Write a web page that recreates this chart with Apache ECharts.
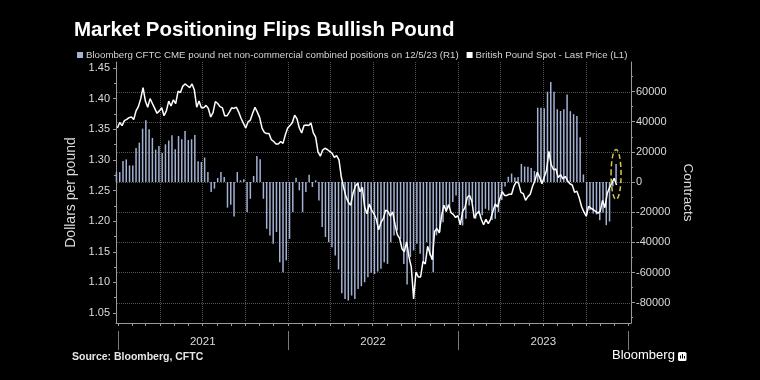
<!DOCTYPE html>
<html>
<head>
<meta charset="utf-8">
<script src="https://cdn.jsdelivr.net/npm/echarts@6/dist/echarts.min.js"></script>
<style>html,body{margin:0;padding:0;background:#000;}#c{width:760px;height:380px;}</style>
</head>
<body>
<div id="c"></div>
<script>
// ---- data ----
const seriesNames = ['Bloomberg CFTC CME pound net non-commercial combined positions on 12/5/23 (R1)', 'British Pound Spot - Last Price (L1)'];
// GBPUSD spot, one reading every 5 days starting 2020-12-31
const gbpSpot = [
1.352,1.361,1.356,1.364,1.366,1.369,1.370,1.366,1.380,1.387,
1.400,1.418,1.396,1.386,1.400,1.392,1.384,1.376,1.380,1.385,
1.372,1.380,1.396,1.388,1.398,1.392,1.412,1.410,1.420,1.424,
1.421,1.418,1.424,1.414,1.386,1.396,1.385,1.385,1.389,1.384,
1.370,1.377,1.395,1.392,1.387,1.385,1.372,1.372,1.378,1.385,
1.384,1.386,1.378,1.368,1.360,1.352,1.362,1.365,1.376,1.386,
1.378,1.369,1.352,1.345,1.343,1.343,1.333,1.330,1.326,1.326,
1.330,1.327,1.341,1.352,1.356,1.361,1.373,1.367,1.352,1.344,
1.356,1.357,1.356,1.360,1.344,1.337,1.313,1.306,1.316,1.319,
1.317,1.314,1.311,1.304,1.307,1.300,1.272,1.255,1.240,1.231,
1.226,1.245,1.257,1.262,1.248,1.255,1.223,1.212,1.228,1.218,
1.212,1.203,1.186,1.198,1.204,1.218,1.216,1.208,1.215,1.195,
1.178,1.172,1.155,1.150,1.166,1.142,1.125,1.073,1.117,1.109,
1.109,1.134,1.130,1.159,1.147,1.137,1.183,1.188,1.181,1.209,
1.226,1.216,1.227,1.214,1.211,1.206,1.209,1.194,1.216,1.222,
1.239,1.242,1.232,1.205,1.212,1.216,1.203,1.194,1.203,1.196,
1.203,1.216,1.228,1.223,1.237,1.248,1.242,1.242,1.244,1.244,
1.257,1.264,1.262,1.247,1.245,1.234,1.240,1.244,1.257,1.266,
1.280,1.272,1.261,1.272,1.283,1.314,1.292,1.284,1.285,1.271,
1.276,1.269,1.273,1.266,1.261,1.259,1.247,1.249,1.238,1.224,
1.215,1.208,1.224,1.221,1.219,1.216,1.213,1.216,1.234,1.222,
1.245,1.255,1.262,1.270,1.259
];
// CFTC net positions, weekly (Tuesdays) starting 2020-12-29
const cftcNet = [
6600,
6600,14000,15000,11000,11000,22600,26100,35400,41000,35000,29200,21500,23900,19300,25000,27500,31000,21700,30600,28400,33900,27900,28400,31200,13700,13300,
16200,6600,-6600,-4400,2700,6600,3300,-17000,-15000,-22800,6600,1100,1800,-19900,-11100,4000,17300,15100,-11100,-31000,-35400,-41000,-33200,-53200,-59800,-52000,
-37700,-19900,2900,-5500,-19900,-6600,4900,-3300,1100,-12200,-29900,-36500,-39900,-43200,-48700,-58000,-73800,-77500,-78600,-75300,-77500,-70900,-69100,-66500,-63100,-60200,
-61000,-59400,-57600,-53200,-54300,-39900,-35400,-32100,-37700,-54300,-68000,-49800,-45400,-40900,-47600,-53200,-39900,-48700,-59800,-35400,-33200,-26600,-19900,-17700,-13300,-8900,
-22100,-28800,-24400,-15500,-13300,-24400,-21000,-22100,-17700,-18800,-25200,-24400,-19900,-12000,-3000,3500,5600,3000,3300,12000,10300,10100,9300,7300,49300,49300,
49000,59900,66300,59800,48300,47100,48200,58000,47000,45000,43800,29700,5000,-21400,-18700,-20900,-21500,-25300,-20400,-28600,-26200,-3000,12000
];
const leftTicks = [1.05,1.10,1.15,1.20,1.25,1.30,1.35,1.40,1.45];
const leftMinorTicks = [1.075,1.125,1.175,1.225,1.275,1.325,1.375,1.425];
const rightTicks = [-80000,-60000,-40000,-20000,0,20000,40000,60000];
const rightMinorTicks = [-90000,-70000,-50000,-30000,-10000,10000,30000,50000,70000];
const yearLabels = ['2021','2022','2023'];

// ---- build ----
const day = (y, m, d) => new Date(y, m, d).getTime();
const lineDates = gbpSpot.map((_, i) => day(2020, 11, 31 + 5 * i));
const barDates = cftcNet.map((_, i) => day(2020, 11, 29 + 7 * i));
const monthTicks = []; for (let k = 0; k <= 36; k++) monthTicks.push(day(2021, k, 1));
const quarterGrid = []; for (let k = 3; k < 36; k += 3) quarterGrid.push(day(2021, k, 1));
const yearStarts = [day(2021,0,1), day(2022,0,1), day(2023,0,1), day(2024,0,1)];
const yearMids = yearLabels.map(y => day(+y, 6, 2));
const xMin = day(2020, 11, 28), xMax = day(2024, 0, 6);

const FONT = "'Liberation Sans', Arial, sans-serif";
const AXIS_C = '#9a9a9a';
const LABEL_C = '#dcdcdc';
const GRID_C = '#555555';

const hiddenAxisBits = {axisLine:{show:false}, axisLabel:{show:false}, splitLine:{show:false}};

const chart = echarts.init(document.getElementById('c'), null, {renderer:'canvas', width:760, height:380});
chart.setOption({
  animation: false,
  backgroundColor: '#000',
  textStyle: {fontFamily: FONT},
  title: {
    text: 'Market Positioning Flips Bullish Pound',
    left: 69, top: 15,
    textStyle: {color:'#fff', fontSize: 20.5, fontWeight:'bold', fontFamily: FONT}
  },
  legend: {
    left: 72, top: 45,
    icon: 'rect', itemWidth: 6, itemHeight: 6, itemGap: 8,
    textStyle: {color:'#d4d4d4', fontSize: 9.7, fontFamily: FONT, padding:[0,0,0,-2]},
    data: seriesNames
  },
  grid: {left:116, right:129, top:62, bottom:57, outerBoundsMode:'none'},
  xAxis: [
    {
      type:'value', min:xMin, max:xMax, position:'bottom', scale:true,
      axisLine:{show:true, onZero:false, lineStyle:{color:AXIS_C, width:1}},
      axisTick:{show:true, customValues: monthTicks, length:3, lineStyle:{color:AXIS_C}},
      axisLabel:{show:false}, splitLine:{show:false}
    },
    {
      type:'value', min:xMin, max:xMax, position:'bottom', offset:8, scale:true,
      axisLine:{show:false, onZero:false},
      axisTick:{show:true, customValues: yearStarts, length:19, lineStyle:{color:'#7a7a7a'}},
      axisLabel:{show:true, customValues: yearMids, margin:5, color:LABEL_C, fontSize:11.5, fontFamily:FONT,
        formatter: v => String(new Date(v).getFullYear())},
      splitLine:{show:false}
    }
  ],
  yAxis: [
    {
      type:'value', position:'left', min:1.0337, max:1.4598,
      name:'Dollars per pound', nameLocation:'middle', nameRotate:90, nameGap:31,
      nameTextStyle:{color:LABEL_C, fontSize:14, fontFamily:FONT},
      axisLine:{show:true, onZero:false, lineStyle:{color:AXIS_C}},
      axisTick:{show:true, customValues: leftTicks, length:3, lineStyle:{color:AXIS_C}},
      axisLabel:{show:true, customValues: leftTicks, margin:6, color:LABEL_C, fontSize:11, fontFamily:FONT,
        formatter: v => v.toFixed(2)},
      splitLine:{show:false}
    },
    {
      type:'value', position:'right', min:-93500, max:79600,
      name:'Contracts', nameLocation:'middle', nameRotate:-90, nameGap:44,
      nameTextStyle:{color:LABEL_C, fontSize:13.5, fontFamily:FONT},
      axisLine:{show:true, onZero:false, lineStyle:{color:AXIS_C}},
      axisTick:{show:true, customValues: rightTicks, length:4, lineStyle:{color:AXIS_C}},
      axisLabel:{show:true, customValues: rightTicks, margin:5, color:LABEL_C, fontSize:11, fontFamily:FONT,
        formatter: v => String(v)},
      splitLine:{show:false}
    },
    Object.assign({type:'value', position:'left', min:1.0337, max:1.4598,
      axisTick:{show:true, customValues:leftMinorTicks, length:2, lineStyle:{color:AXIS_C}}}, hiddenAxisBits),
    Object.assign({type:'value', position:'right', min:-93500, max:79600,
      axisTick:{show:true, customValues:rightMinorTicks, length:2, lineStyle:{color:AXIS_C}}}, hiddenAxisBits)
  ],
  series: [
    {
      name: seriesNames[0], type:'bar', xAxisIndex:0, yAxisIndex:1, z:2,
      barWidth: 1.5,
      itemStyle:{color:'#a3b1d3'},
      data: barDates.map((d, i) => [d, cftcNet[i]])
    },
    {
      name: seriesNames[1], type:'line', xAxisIndex:0, yAxisIndex:0, z:3,
      symbol:'none', lineStyle:{color:'#ffffff', width:1.5}, itemStyle:{color:'#ffffff'},
      data: lineDates.map((d, i) => [d, gbpSpot[i]])
    }
  ]
});

// gridlines placed through the axes' own scales (behind the series)
const rect = chart.getModel().getComponent('grid', 0).coordinateSystem.getRect();
const crisp = v => Math.round(v) + 0.5;
const gridEls = [];
rightTicks.forEach(v => {
  const y = crisp(chart.convertToPixel({yAxisIndex:1}, v));
  gridEls.push({type:'line', z:-1, silent:true, shape:{x1:rect.x + 1, y1:y, x2:rect.x + rect.width - 1, y2:y},
    style:{stroke:GRID_C, lineWidth:1, lineDash:[1,1]}});
});
quarterGrid.forEach(t => {
  const x = crisp(chart.convertToPixel({xAxisIndex:0}, t));
  gridEls.push({type:'line', z:-1, silent:true, shape:{x1:x, y1:rect.y, x2:x, y2:rect.y + rect.height - 1},
    style:{stroke:GRID_C, lineWidth:1, lineDash:[1,1]}});
});

// annotation ellipse round the latest reading, plus footer texts
const lastIdx = cftcNet.length - 1;
const c = chart.convertToPixel({xAxisIndex:0, yAxisIndex:1}, [barDates[lastIdx], 5000]);
chart.setOption({
  graphic: gridEls.concat([
    {type:'ellipse', z:10, shape:{cx:c[0], cy:c[1], rx:5, ry:25}, silent:true,
      style:{fill:'none', stroke:'#d4c64a', lineWidth:1.5, lineDash:[5,3]}},
    {type:'text', left:72, top:352,
      style:{text:'Source: Bloomberg, CFTC', fill:'#e6e6e6', font:"bold 10.5px 'Liberation Sans', Arial, sans-serif"}},
    {type:'text', left:612, top:349,
      style:{text:'Bloomberg', fill:'#ffffff', font:"13px 'Liberation Sans', Arial, sans-serif"}},
    {type:'rect', left:678, top:352, shape:{width:8.5, height:9, r:1.5}, style:{fill:'#ffffff'}},
    {type:'rect', left:680, top:355.5, shape:{width:1, height:3}, style:{fill:'#000'}},
    {type:'rect', left:682, top:354, shape:{width:1, height:4.5}, style:{fill:'#000'}},
    {type:'rect', left:684, top:356, shape:{width:1, height:2.5}, style:{fill:'#000'}}
  ])
});
</script>
</body>
</html>
